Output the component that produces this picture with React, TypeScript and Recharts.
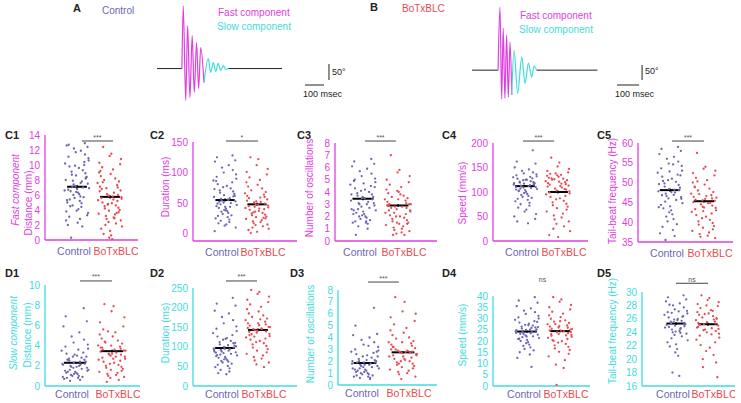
import React from 'react';
import { ScatterChart, Scatter, XAxis, YAxis, ReferenceLine, LineChart, Line } from 'recharts';

const FONT = '"Liberation Sans", Arial, Helvetica, sans-serif';
const MAGENTA = '#e03ee0';
const CYAN = '#3fdcdc';
const CTRL = '#6c67b4';
const BOTX = '#e64b50';
const GROUPS = ['Control', 'BoTxBLC'];

// ---------- traces (time ms, angle deg) ----------
const A_PRE_T = [37, 168];
const A_PRE_A = [0, 0];
const A_FAST_T = [168, 175, 188, 198, 210, 222, 233, 245, 256, 267, 284];
const A_FAST_A = [0, 197, -100, 134, -91, 103, -75, 81, -62, 66, -44];
const A_SLOW_T = [284, 307, 319, 333, 346, 359, 372, 386, 398, 412];
const A_SLOW_A = [-44, 31, -12, 19, -9, 16, -6, 9, -3, 0];
const A_POST_T = [412, 695];
const A_POST_A = [0, 0];

const B_PRE_T = [37, 174];
const B_PRE_A = [0, 0];
const B_FAST_T = [174, 184, 193, 201, 210, 219, 228, 237, 246];
const B_FAST_A = [0, 198, -91, 132, -88, 110, -85, 88, -78];
const B_SLOW_T = [246, 258, 277, 299, 316, 334, 351, 363, 377];
const B_SLOW_A = [-78, 63, -72, 41, -41, 22, -22, 13, 0];
const B_POST_T = [377, 697];
const B_POST_A = [0, 0];

// ---------- scatter values ----------
const C1_CONTROL = [12.9, 12.7, 12.4, 12.6, 11.9, 12.2, 11.4, 11.7, 10.9, 11.1, 10.6, 10.2, 10.4, 9.8, 9.6, 9.9, 9.3, 9.1, 8.9, 8.7, 8.4, 8.6, 8.2, 8.0, 7.8, 7.9, 7.6, 7.4, 7.5, 7.2, 7.0, 7.1, 6.9, 6.7, 6.8, 6.5, 6.3, 6.4, 6.1, 6.0, 5.8, 5.6, 5.7, 5.4, 5.2, 5.0, 4.9, 4.6, 4.4, 4.5, 4.1, 3.9, 3.6, 3.8, 3.3, 3.1, 2.8, 2.6, 2.3, 2.0, 1.8, 0.3, 8.3, 6.6, 10.0, 5.3];
const C1_BOTX = [12.4, 11.5, 11.2, 10.8, 10.3, 10.1, 9.7, 9.4, 9.0, 8.8, 8.5, 8.2, 8.0, 7.8, 7.6, 7.3, 7.1, 7.0, 6.8, 6.6, 6.5, 6.3, 6.1, 6.0, 5.9, 5.7, 5.6, 5.5, 5.3, 5.2, 5.0, 4.9, 4.8, 4.6, 4.5, 4.3, 4.2, 4.0, 3.9, 3.7, 3.5, 3.4, 3.2, 3.0, 2.8, 2.6, 2.4, 2.2, 2.0, 1.8, 1.5, 1.2, 0.8, 0.6, 0.3, 0.1, 6.9, 5.4, 4.7, 3.6, 7.7, 5.8, 9.2, 2.9];
const C2_CONTROL = [128, 125, 120, 118, 112, 108, 104, 100, 97, 93, 90, 87, 84, 81, 78, 76, 74, 71, 69, 67, 65, 63, 61, 60, 58, 57, 55, 54, 53, 51, 50, 48, 47, 45, 44, 42, 41, 39, 37, 36, 34, 32, 30, 29, 27, 25, 23, 21, 19, 17, 15, 13, 10, 4, 62, 49, 56, 73, 38, 86, 44, 52];
const C2_BOTX = [125, 122, 112, 106, 101, 97, 92, 88, 84, 80, 77, 74, 71, 68, 66, 64, 62, 60, 58, 56, 54, 52, 51, 49, 48, 46, 45, 43, 42, 40, 39, 37, 36, 34, 33, 31, 30, 28, 27, 25, 24, 22, 20, 19, 17, 15, 14, 12, 10, 8, 6, 3, 1, 47, 53, 41, 35, 59, 44, 26];
const C3_CONTROL = [6.7, 6.5, 6.3, 6.1, 5.9, 5.7, 5.5, 5.3, 5.1, 4.9, 4.8, 4.6, 4.5, 4.3, 4.2, 4.1, 4.0, 3.9, 3.8, 3.7, 3.6, 3.5, 3.4, 3.3, 3.2, 3.1, 3.0, 3.0, 2.9, 2.8, 2.7, 2.6, 2.5, 2.5, 2.4, 2.3, 2.2, 2.1, 2.0, 2.0, 1.9, 1.8, 1.7, 1.6, 1.5, 1.5, 1.4, 1.2, 1.0, 0.5, 3.5, 3.6, 4.4, 2.6, 3.1, 5.0, 1.6, 3.8, 4.7, 2.2];
const C3_BOTX = [7.0, 5.8, 5.6, 5.3, 5.0, 4.8, 4.6, 4.4, 4.2, 4.0, 3.9, 3.7, 3.6, 3.5, 3.4, 3.3, 3.2, 3.1, 3.0, 3.0, 2.9, 2.8, 2.8, 2.7, 2.6, 2.5, 2.5, 2.4, 2.3, 2.2, 2.1, 2.0, 2.0, 1.9, 1.8, 1.7, 1.6, 1.5, 1.5, 1.4, 1.3, 1.2, 1.1, 1.0, 0.9, 0.8, 0.6, 0.5, 0.5, 3.0, 2.9, 3.4, 2.7, 1.4, 4.1, 3.8, 2.3, 0.7];
const C4_CONTROL = [185, 162, 158, 150, 146, 143, 140, 138, 136, 134, 132, 130, 128, 127, 125, 124, 122, 121, 120, 119, 118, 117, 116, 115, 114, 113, 112, 111, 110, 109, 108, 107, 106, 105, 104, 102, 100, 98, 96, 94, 92, 90, 88, 86, 84, 81, 78, 75, 72, 68, 64, 60, 55, 50, 45, 40, 36, 118, 125, 110, 131, 103, 115];
const C4_BOTX = [170, 160, 152, 147, 143, 140, 137, 135, 133, 131, 129, 127, 125, 124, 122, 120, 118, 116, 115, 113, 111, 109, 107, 105, 103, 101, 99, 97, 95, 92, 90, 87, 85, 82, 79, 76, 73, 70, 67, 64, 60, 56, 52, 48, 44, 40, 35, 30, 25, 20, 12, 8, 128, 121, 134, 112, 126, 117, 138, 106];
const C5_CONTROL = [59.0, 58.5, 58.0, 57.2, 56.5, 56.0, 55.3, 54.8, 54.2, 53.6, 53.0, 52.5, 52.0, 51.5, 51.0, 50.6, 50.2, 49.8, 49.4, 49.0, 48.7, 48.4, 48.1, 47.8, 47.5, 47.2, 46.9, 46.6, 46.3, 46.0, 45.6, 45.2, 44.8, 44.4, 44.0, 43.5, 43.0, 42.5, 42.0, 41.4, 40.8, 40.2, 39.5, 38.8, 38.0, 37.2, 36.5, 35.5, 48.2, 50.4, 47.6, 52.8, 45.9, 49.6, 51.8, 46.8, 54.6, 43.8];
const C5_BOTX = [57.5, 54.0, 53.5, 53.0, 52.4, 51.8, 51.2, 50.6, 50.0, 49.5, 49.0, 48.5, 48.0, 47.6, 47.2, 46.8, 46.4, 46.0, 45.7, 45.4, 45.1, 44.8, 44.5, 44.2, 43.9, 43.6, 43.3, 43.0, 42.6, 42.2, 41.8, 41.4, 41.0, 40.6, 40.2, 39.8, 39.4, 39.0, 38.6, 38.2, 37.8, 37.4, 37.0, 36.6, 36.3, 36.0, 45.5, 44.9, 47.1, 46.2, 48.8, 43.7, 50.3, 45.9, 42.8, 46.6];
const D1_CONTROL = [7.7, 6.9, 6.4, 5.9, 5.3, 4.9, 4.6, 4.3, 4.1, 3.9, 3.7, 3.5, 3.3, 3.2, 3.0, 2.9, 2.8, 2.7, 2.6, 2.5, 2.4, 2.3, 2.2, 2.2, 2.1, 2.0, 2.0, 1.9, 1.8, 1.8, 1.7, 1.6, 1.6, 1.5, 1.4, 1.4, 1.3, 1.2, 1.2, 1.1, 1.0, 1.0, 0.9, 0.8, 0.8, 0.7, 0.6, 0.5, 2.4, 2.6, 1.9, 3.1, 1.5, 2.1, 2.9, 1.3, 3.6, 0.9];
const D1_BOTX = [8.1, 7.9, 7.4, 6.8, 6.3, 5.9, 5.6, 5.3, 5.1, 4.9, 4.7, 4.5, 4.3, 4.2, 4.0, 3.9, 3.8, 3.7, 3.6, 3.5, 3.4, 3.3, 3.2, 3.1, 3.0, 2.9, 2.8, 2.7, 2.6, 2.5, 2.4, 2.3, 2.2, 2.1, 2.0, 1.9, 1.8, 1.7, 1.6, 1.5, 1.4, 1.3, 1.2, 1.1, 1.0, 0.9, 0.8, 0.6, 0.4, 3.5, 3.8, 3.2, 4.4, 2.7, 4.0, 3.6, 5.4, 2.9, 3.1];
const D2_CONTROL = [225, 210, 205, 192, 185, 176, 168, 160, 152, 146, 140, 135, 130, 126, 122, 118, 115, 112, 109, 106, 103, 100, 98, 96, 94, 92, 90, 88, 86, 84, 82, 80, 78, 76, 74, 72, 70, 68, 66, 64, 62, 60, 57, 54, 51, 48, 45, 41, 37, 33, 30, 95, 101, 88, 110, 79, 104, 92, 120, 85];
const D2_BOTX = [245, 240, 235, 228, 220, 214, 208, 202, 196, 190, 185, 180, 176, 172, 168, 164, 160, 157, 154, 151, 148, 145, 142, 139, 136, 133, 130, 127, 124, 121, 118, 115, 112, 109, 106, 102, 98, 94, 90, 86, 82, 78, 74, 70, 65, 60, 55, 48, 145, 150, 138, 160, 132, 155, 141, 170, 126, 147];
const D3_CONTROL = [6.5, 5.0, 4.3, 4.2, 4.0, 3.8, 3.6, 3.4, 3.2, 3.0, 2.9, 2.8, 2.7, 2.6, 2.5, 2.4, 2.3, 2.2, 2.1, 2.0, 2.0, 1.9, 1.9, 1.8, 1.8, 1.7, 1.7, 1.6, 1.6, 1.5, 1.5, 1.4, 1.4, 1.3, 1.3, 1.2, 1.2, 1.1, 1.0, 1.0, 0.9, 0.9, 0.8, 0.8, 0.7, 0.7, 0.6, 0.6, 0.5, 1.9, 2.1, 1.7, 2.4, 1.4, 2.8, 1.1, 3.3, 2.0];
const D3_BOTX = [7.4, 7.0, 6.2, 6.0, 5.7, 5.4, 5.1, 4.8, 4.6, 4.4, 4.2, 4.0, 3.9, 3.7, 3.6, 3.5, 3.4, 3.3, 3.2, 3.1, 3.0, 2.9, 2.8, 2.8, 2.7, 2.6, 2.5, 2.5, 2.4, 2.3, 2.2, 2.1, 2.0, 2.0, 1.9, 1.8, 1.7, 1.6, 1.5, 1.4, 1.3, 1.2, 1.1, 1.0, 0.9, 0.7, 0.5, 2.7, 2.9, 2.6, 3.2, 2.4, 3.0, 2.2, 3.6, 2.8, 1.8];
const D4_CONTROL = [39.5, 38.0, 37.0, 35.5, 34.5, 33.5, 32.8, 32.0, 31.2, 30.5, 30.0, 29.4, 28.8, 28.2, 27.7, 27.2, 26.8, 26.4, 26.0, 25.6, 25.2, 24.9, 24.6, 24.3, 24.0, 23.7, 23.4, 23.1, 22.8, 22.5, 22.1, 21.7, 21.3, 20.9, 20.5, 20.0, 19.5, 19.0, 18.4, 17.8, 17.2, 16.5, 15.8, 15.0, 14.0, 12.5, 8.5, 24.5, 25.8, 23.2, 27.0, 22.0, 26.2, 24.8, 28.5, 21.0, 25.0, 23.6];
const D4_BOTX = [39.5, 38.5, 37.5, 36.0, 35.0, 34.0, 33.0, 32.2, 31.4, 30.6, 29.9, 29.2, 28.6, 28.0, 27.4, 26.9, 26.4, 25.9, 25.5, 25.1, 24.7, 24.3, 23.9, 23.5, 23.1, 22.7, 22.3, 21.9, 21.4, 20.9, 20.4, 19.9, 19.3, 18.7, 18.1, 17.4, 16.7, 16.0, 15.2, 14.3, 13.2, 11.5, 9.5, 8.0, 0.5, 24.0, 26.0, 22.5, 27.5, 25.3, 23.0, 28.8, 20.0, 24.6, 26.6];
const D5_CONTROL = [29.5, 29.2, 28.9, 28.6, 28.3, 28.0, 27.7, 27.4, 27.2, 27.0, 26.8, 26.6, 26.4, 26.2, 26.0, 25.9, 25.7, 25.6, 25.4, 25.3, 25.2, 25.0, 24.9, 24.7, 24.6, 24.4, 24.2, 24.0, 23.8, 23.6, 23.4, 23.1, 22.8, 22.5, 22.2, 21.9, 21.5, 21.0, 20.5, 18.0, 17.5, 25.5, 26.3, 24.8, 27.1, 25.1, 23.9, 26.9, 24.5, 28.1, 25.8, 24.1];
const D5_BOTX = [29.5, 29.1, 28.8, 28.5, 28.2, 27.9, 27.6, 27.3, 27.0, 26.8, 26.6, 26.4, 26.2, 26.0, 25.8, 25.6, 25.4, 25.3, 25.1, 25.0, 24.8, 24.6, 24.4, 24.2, 24.0, 23.8, 23.5, 23.2, 22.9, 22.5, 22.1, 21.7, 21.2, 20.6, 20.0, 19.5, 18.8, 17.3, 25.5, 26.1, 24.7, 27.2, 25.2, 23.7, 26.7, 24.5, 28.0, 25.9, 24.3];

// group means and SEM [control, BoTxBLC]
const C1_MEAN = [7.1, 5.75]; const C1_SEM = [0.25, 0.22];
const C2_MEAN = [55, 48]; const C2_SEM = [2.5, 2.5];
const C3_MEAN = [3.45, 2.9]; const C3_SEM = [0.12, 0.1];
const C4_MEAN = [112, 100]; const C4_SEM = [2.5, 3];
const C5_MEAN = [48.1, 45.3]; const C5_SEM = [0.4, 0.35];
const D1_MEAN = [2.3, 3.45]; const D1_SEM = [0.1, 0.13];
const D2_MEAN = [97, 143]; const D2_SEM = [3, 3.5];
const D3_MEAN = [1.85, 2.75]; const D3_SEM = [0.08, 0.1];
const D4_MEAN = [24.2, 24.4]; const D4_SEM = [0.5, 0.55];
const D5_MEAN = [25.3, 25.2]; const D5_SEM = [0.2, 0.22];

// tick labels
const C1_TICKS = [0, 2, 4, 6, 8, 10, 12, 14];
const C2_TICKS = [0, 50, 100, 150];
const C3_TICKS = [0, 1, 2, 3, 4, 5, 6, 7, 8];
const C4_TICKS = [0, 50, 100, 150, 200];
const C5_TICKS = [35, 40, 45, 50, 55, 60];
const D1_TICKS = [0, 2, 4, 6, 8, 10];
const D2_TICKS = [0, 50, 100, 150, 200, 250];
const D3_TICKS = [0, 1, 2, 3, 4, 5, 6, 7, 8];
const D4_TICKS = [0, 5, 10, 15, 20, 25, 30, 35, 40];
const D5_TICKS = [16, 18, 20, 22, 24, 26, 28, 30];

// fixed horizontal jitter pattern (fraction of half-width)
const JITTER = [0.62, -0.41, 0.18, -0.87, 0.93, -0.12, 0.35, -0.66, 0.77, -0.29, 0.05, -0.95, 0.48, -0.54, 0.84, -0.08, 0.27, -0.73, 0.59, -0.37, 0.11, -0.82, 0.69, -0.19, 0.42, -0.6, 0.96, -0.03, 0.31, -0.9, 0.53, -0.47, 0.15, -0.7, 0.88, -0.24, 0.39, -0.58, 0.72, -0.15, 0.01, -0.85, 0.64, -0.33, 0.22, -0.99, 0.46, -0.51, 0.81, -0.1, 0.29, -0.77, 0.57, -0.43, 0.09, -0.62, 0.91, -0.27, 0.36, -0.8, 0.67, -0.06, 0.24, -0.68, 0.86, -0.35];

const zip = (t: number[], a: number[]) => t.map((v, i) => ({ t: v, a: a[i] }));
const toPoints = (values: number[], group: number, shift: number) =>
  values.map((v, i) => ({ x: group + JITTER[(i * 7 + shift) % JITTER.length] * 0.38, y: v }));

type P = {
  id: string; ctrl: number[]; botx: number[]; mean: number[]; sem: number[];
  domain: [number, number]; ticks: number[]; color: string;
  axisX: number; axisR: number; top: number; bottom: number; c1: number; c2: number;
  sig: [number, number, number]; sigText: string; tm: number;
  label: [number, number]; titles: { text: string; x: number; y: number; italic?: boolean }[];
};

const PANELS: P[] = [
  { id: 'C1', ctrl: C1_CONTROL, botx: C1_BOTX, mean: C1_MEAN, sem: C1_SEM, domain: [0, 14], ticks: C1_TICKS, color: MAGENTA,
    axisX: 45, axisR: 138, top: 135, bottom: 240, c1: 77, c2: 110, sig: [1.15, 2.09, 13.2], sigText: '***', label: [5, 135], tm: 5,
    titles: [{ text: 'Fast component', x: 15, y: 190, italic: true }, { text: 'Distance (mm)', x: 28, y: 203 }] },
  { id: 'C2', ctrl: C2_CONTROL, botx: C2_BOTX, mean: C2_MEAN, sem: C2_SEM, domain: [-12, 150], ticks: C2_TICKS, color: MAGENTA,
    axisX: 193, axisR: 297, top: 142, bottom: 241, c1: 225, c2: 257, sig: [1.03, 2.03, 151.6], sigText: '*', label: [150, 135], tm: 5,
    titles: [{ text: 'Duration (ms)', x: 165, y: 187 }] },
  { id: 'C3', ctrl: C3_CONTROL, botx: C3_BOTX, mean: C3_MEAN, sem: C3_SEM, domain: [0, 8], ticks: C3_TICKS, color: MAGENTA,
    axisX: 335, axisR: 437, top: 143, bottom: 241, c1: 363, c2: 398, sig: [1.06, 1.94, 8.16], sigText: '***', label: [297, 135], tm: 5,
    titles: [{ text: 'Number of oscillations', x: 309, y: 188 }] },
  { id: 'C4', ctrl: C4_CONTROL, botx: C4_BOTX, mean: C4_MEAN, sem: C4_SEM, domain: [0, 200], ticks: C4_TICKS, color: MAGENTA,
    axisX: 493, axisR: 588, top: 143, bottom: 241, c1: 525, c2: 558, sig: [0.94, 1.88, 204], sigText: '***', label: [442, 135], tm: 5,
    titles: [{ text: 'Speed (mm/s)', x: 462, y: 193 }] },
  { id: 'C5', ctrl: C5_CONTROL, botx: C5_BOTX, mean: C5_MEAN, sem: C5_SEM, domain: [35, 60], ticks: C5_TICKS, color: MAGENTA,
    axisX: 638, axisR: 733, top: 143, bottom: 242, c1: 670, c2: 704, sig: [1.06, 2.0, 60.5], sigText: '***', label: [597, 135], tm: 5,
    titles: [{ text: 'Tail-beat frequency (Hz)', x: 612, y: 191 }] },
  { id: 'D1', ctrl: D1_CONTROL, botx: D1_BOTX, mean: D1_MEAN, sem: D1_SEM, domain: [0, 10], ticks: D1_TICKS, color: CYAN,
    axisX: 45, axisR: 140, top: 285, bottom: 386, c1: 75, c2: 112, sig: [1.135, 2.0, 10.4], sigText: '***', label: [5, 273], tm: 2,
    titles: [{ text: 'Slow component', x: 13, y: 333, italic: true }, { text: 'Distance (mm)', x: 27, y: 335 }] },
  { id: 'D2', ctrl: D2_CONTROL, botx: D2_BOTX, mean: D2_MEAN, sem: D2_SEM, domain: [0, 250], ticks: D2_TICKS, color: CYAN,
    axisX: 193, axisR: 297, top: 288, bottom: 386, c1: 225, c2: 258, sig: [1.03, 1.97, 267.9], sigText: '***', label: [150, 273], tm: 2,
    titles: [{ text: 'Duration (ms)', x: 165, y: 333 }] },
  { id: 'D3', ctrl: D3_CONTROL, botx: D3_BOTX, mean: D3_MEAN, sem: D3_SEM, domain: [0, 8], ticks: D3_TICKS, color: CYAN,
    axisX: 338, axisR: 437, top: 290, bottom: 385, c1: 365, c2: 403, sig: [1.08, 1.89, 8.67], sigText: '***', label: [290, 273], tm: 2,
    titles: [{ text: 'Number of oscillations', x: 310, y: 334 }] },
  { id: 'D4', ctrl: D4_CONTROL, botx: D4_BOTX, mean: D4_MEAN, sem: D4_SEM, domain: [0, 40], ticks: D4_TICKS, color: CYAN,
    axisX: 493, axisR: 590, top: 296, bottom: 386, c1: 527, c2: 560, sig: [1.0, 1.94, 45.65], sigText: 'ns', label: [442, 273], tm: 2,
    titles: [{ text: 'Speed (mm/s)', x: 462, y: 335 }] },
  { id: 'D5', ctrl: D5_CONTROL, botx: D5_BOTX, mean: D5_MEAN, sem: D5_SEM, domain: [16, 30], ticks: D5_TICKS, color: CYAN,
    axisX: 642, axisR: 735, top: 292, bottom: 386, c1: 676, c2: 708, sig: [1.0, 2.0, 31.3], sigText: 'ns', label: [597, 273], tm: 2,
    titles: [{ text: 'Tail-beat frequency (Hz)', x: 612, y: 331 }] },
];

const YW = 30;
const MT = 12;
const XH = 17;

const makeDot = (fill: string) => (props: any) =>
  props.cx == null ? <g /> : <circle cx={props.cx} cy={props.cy} r={1.15} fill={fill} />;

function Panel({ p }: { p: P }) {
  const plotW = p.axisR - p.axisX;
  const plotH = p.bottom - p.top;
  const unit = p.c2 - p.c1;
  const xmin = 1 - (p.c1 - p.axisX) / unit;
  const xmax = 2 + (p.axisR - p.c2) / unit;
  const ctrl = toPoints(p.ctrl, 1, 0);
  const botx = toPoints(p.botx, 2, 13);
  const renderTick = (props: any) => {
    const { x, y, payload } = props;
    const i = payload.value === 1 ? 0 : 1;
    return (
      <text x={x + (i === 0 ? -3 : 6)} y={y} dy="0.71em" textAnchor="middle" fontSize={10.5}
        fontFamily={FONT} fill={i === 0 ? CTRL : BOTX}>{GROUPS[i]}</text>
    );
  };
  return (
    <div style={{ position: 'absolute', left: p.axisX - YW, top: p.top - MT }}>
      <ScatterChart width={YW + plotW} height={MT + plotH + XH} margin={{ top: MT, right: 0, bottom: 0, left: 0 }}>
        <XAxis type="number" dataKey="x" domain={[xmin, xmax]} ticks={[1, 2]} tick={renderTick} tickLine={false}
          axisLine={{ stroke: p.color, strokeWidth: 1.3 }} height={XH} tickSize={3} tickMargin={p.tm} allowDataOverflow interval={0} />
        <YAxis type="number" dataKey="y" domain={p.domain} ticks={p.ticks} width={YW} tickLine={false}
          axisLine={{ stroke: p.color, strokeWidth: 1.3 }} tick={{ fill: p.color, fontSize: 10, fontFamily: FONT }}
          tickSize={3} tickMargin={2} allowDataOverflow interval={0} />
        <Scatter data={ctrl} shape={makeDot(CTRL)} isAnimationActive={false} />
        <Scatter data={botx} shape={makeDot(BOTX)} isAnimationActive={false} />
        {[0, 1].map((g) => (
          <ReferenceLine key={'m' + g} segment={[{ x: g + 1 - 0.3, y: p.mean[g] }, { x: g + 1 + 0.3, y: p.mean[g] }]}
            stroke="#000" strokeWidth={2} ifOverflow="visible" />
        ))}
        {[0, 1].map((g) => (
          <ReferenceLine key={'e' + g} segment={[{ x: g + 1, y: p.mean[g] - p.sem[g] }, { x: g + 1, y: p.mean[g] + p.sem[g] }]}
            stroke="#000" strokeWidth={1.5} ifOverflow="visible" />
        ))}
        <ReferenceLine segment={[{ x: p.sig[0], y: p.sig[2] }, { x: p.sig[1], y: p.sig[2] }]} stroke="#444" strokeWidth={1} ifOverflow="visible" />
      </ScatterChart>
    </div>
  );
}

function Trace({ left, pre, fast, slow, post, domainY, hBar, vBar }: any) {
  return (
    <div style={{ position: 'absolute', left, top: 0 }}>
      <LineChart width={190} height={110} margin={{ top: 0, right: 0, bottom: 0, left: 0 }}>
        <XAxis type="number" dataKey="t" domain={[0, 1000]} hide allowDataOverflow />
        <YAxis type="number" dataKey="a" domain={domainY} hide allowDataOverflow />
        <Line data={pre} dataKey="a" type="linear" stroke="#222" strokeWidth={1} dot={false} isAnimationActive={false} />
        <Line data={post} dataKey="a" type="linear" stroke="#222" strokeWidth={1} dot={false} isAnimationActive={false} />
        <Line data={fast} dataKey="a" type="monotone" stroke={MAGENTA} strokeWidth={1.2} dot={false} isAnimationActive={false} />
        <Line data={slow} dataKey="a" type="monotone" stroke={CYAN} strokeWidth={1.2} dot={false} isAnimationActive={false} />
        <ReferenceLine segment={hBar} stroke="#222" strokeWidth={1} ifOverflow="visible" />
        <ReferenceLine segment={vBar} stroke="#222" strokeWidth={1} ifOverflow="visible" />
      </LineChart>
    </div>
  );
}

function Txt({ x, y, children, size = 10, fill = '#222', bold = false, italic = false, anchor = 'start' }: any) {
  return (
    <text x={x} y={y} fontSize={size} fill={fill} fontFamily={FONT} fontWeight={bold ? 'bold' : 'normal'}
      fontStyle={italic ? 'italic' : 'normal'} textAnchor={anchor} dominantBaseline="central">{children}</text>
  );
}

export default function App() {
  return (
    <div style={{ position: 'absolute', left: 0, top: 0, width: 741, height: 403, background: '#fff', overflow: 'hidden' }}>
      <Trace left={150} pre={zip(A_PRE_T, A_PRE_A)} fast={zip(A_FAST_T, A_FAST_A)} slow={zip(A_SLOW_T, A_SLOW_A)}
        post={zip(A_POST_T, A_POST_A)} domainY={[-130, 215]}
        hBar={[{ x: 816, y: -51.6 }, { x: 916, y: -51.6 }]} vBar={[{ x: 942, y: 14.3 }, { x: 942, y: -35.9 }]} />
      <Trace left={465} pre={zip(B_PRE_T, B_PRE_A)} fast={zip(B_FAST_T, B_FAST_A)} slow={zip(B_SLOW_T, B_SLOW_A)}
        post={zip(B_POST_T, B_POST_A)} domainY={[-125, 220]}
        hBar={[{ x: 800, y: -46.6 }, { x: 916, y: -46.6 }]} vBar={[{ x: 932, y: 16.2 }, { x: 932, y: -30.9 }]} />
      {PANELS.map((p) => <Panel key={p.id} p={p} />)}
      <svg width={741} height={403} style={{ position: 'absolute', left: 0, top: 0, pointerEvents: 'none' }}>
        <Txt x={77} y={8} size={11} bold anchor="middle">A</Txt>
        <Txt x={102} y={10} fill={CTRL}>Control</Txt>
        <Txt x={218} y={12} fill={MAGENTA}>Fast component</Txt>
        <Txt x={217} y={26} fill={CYAN}>Slow component</Txt>
        <Txt x={332} y={72} size={9}>50°</Txt>
        <Txt x={303} y={94} size={9}>100 msec</Txt>
        <Txt x={374} y={7} size={11} bold anchor="middle">B</Txt>
        <Txt x={402} y={8} fill={BOTX}>BoTxBLC</Txt>
        <Txt x={520} y={15} fill={MAGENTA}>Fast component</Txt>
        <Txt x={519} y={29} fill={CYAN}>Slow component</Txt>
        <Txt x={645} y={71} size={9}>50°</Txt>
        <Txt x={615} y={94} size={9}>100 msec</Txt>
        {PANELS.map((p) => {
          const unit = p.c2 - p.c1;
          const sx = p.c1 + ((p.sig[0] + p.sig[1]) / 2 - 1) * unit;
          const sy = p.top + ((p.domain[1] - p.sig[2]) / (p.domain[1] - p.domain[0])) * (p.bottom - p.top);
          return (
            <g key={'o' + p.id}>
              <Txt x={p.label[0]} y={p.label[1]} size={11} bold>{p.id}</Txt>
              <Txt x={sx} y={sy - 4} size={7} fill="#555" anchor="middle">{p.sigText}</Txt>
              {p.titles.map((t, i) => (
                <text key={i} transform={`translate(${t.x},${t.y}) rotate(-90)`} fontSize={10} fill={p.color}
                  fontFamily={FONT} fontStyle={t.italic ? 'italic' : 'normal'} textAnchor="middle" dominantBaseline="central">{t.text}</text>
              ))}
            </g>
          );
        })}
      </svg>
    </div>
  );
}
